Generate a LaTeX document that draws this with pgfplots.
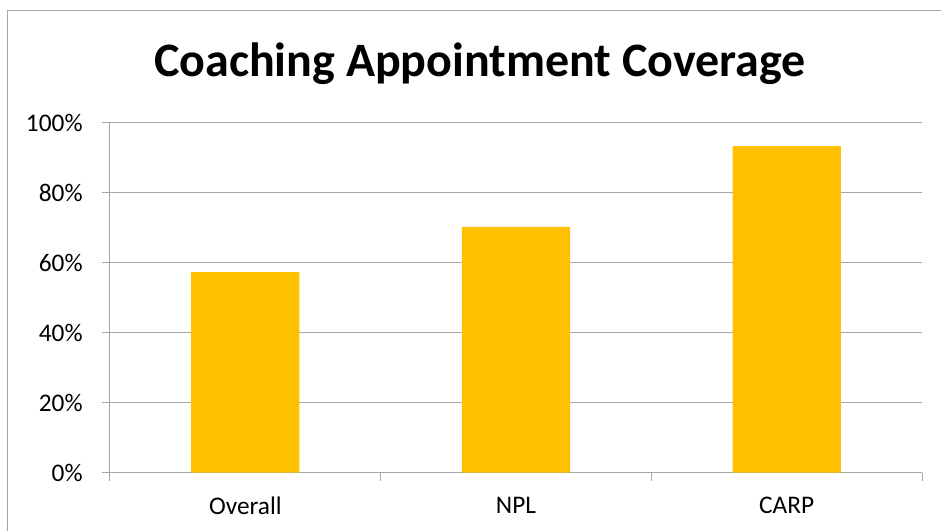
\documentclass[border=0pt]{standalone}
\usepackage{pgfplots}
\pgfplotsset{compat=1.18}
\usepackage{fontspec}
\setmainfont{Carlito}
\definecolor{bargold}{RGB}{255,192,0}
\definecolor{gridgray}{RGB}{166,166,166}
\begin{document}
\begin{tikzpicture}
\begin{axis}[
  scale only axis, width=609pt, height=262.5pt,
  xmin=-0.5, xmax=2.5, ymin=0, ymax=100,
  axis x line*=bottom, axis y line*=left,
  axis line style={gridgray, line width=0.75pt},
  ybar, bar width=0.4,
  xtick={-0.5,0.5,1.5,2.5}, xticklabels={},
  extra x ticks={0,1,2}, extra x tick labels={Overall,NPL,CARP},
  extra x tick style={major tick length=0pt, grid=none},
  ytick={0,20,40,60,80,100},
  yticklabel={\pgfmathprintnumber{\tick}\%},
  ymajorgrids, grid style={gridgray, line width=0.75pt},
  tick align=outside,
  major tick length=6pt,
  every tick/.style={gridgray, line width=0.75pt},
  /pgf/number format/assume math mode=true,
  ticklabel style={font=\fontsize{19}{22}\selectfont, text=black},
  yticklabel style={xshift=-11pt},
  xticklabel style={yshift=-15pt},
]
\addplot[fill=bargold, draw=none] coordinates {(0,57.3) (1,70.2) (2,93.3)};
\end{axis}
\node[anchor=base, font=\fontsize{36}{40}\selectfont\bfseries] at (277.5pt,297pt) {Coaching Appointment Coverage};
\draw[gridgray, line width=0.75pt] (-76.5pt,-80pt) rectangle (700pt,346.3pt);
\pgfresetboundingbox
\useasboundingbox (-82.5pt,-43.7pt) rectangle (623.25pt,354.5pt);
\end{tikzpicture}
\end{document}
